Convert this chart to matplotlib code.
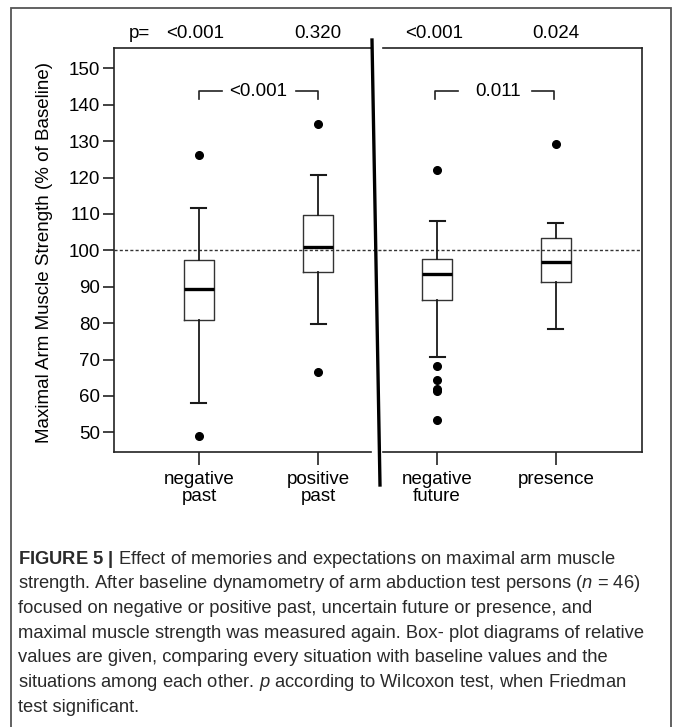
import matplotlib
matplotlib.use('Agg')
import matplotlib.pyplot as plt
from matplotlib.lines import Line2D
from matplotlib.patches import Rectangle

plt.rcParams['font.family'] = ['Liberation Sans', 'DejaVu Sans']
plt.rcParams['mathtext.fontset'] = 'custom'
plt.rcParams['mathtext.rm'] = 'Liberation Sans'
plt.rcParams['mathtext.it'] = 'Liberation Sans:italic'
plt.rcParams['mathtext.bf'] = 'Liberation Sans:bold'

# Datos (% de la linea base)
categorias_izq = ['negative\npast', 'positive\npast']
categorias_der = ['negative\nfuture', 'presence']
bigote_bajo = [58.1, 79.9, 70.8, 78.3]
q1 = [80.8, 94.1, 86.4, 91.4]
mediana = [89.4, 100.9, 93.4, 96.8]
q3 = [97.3, 109.8, 97.7, 103.3]
bigote_alto = [111.6, 120.8, 108.0, 107.4]
atipicos = [[126.2, 49.0], [134.8, 66.5], [122.1, 68.2, 64.3, 62.0, 61.4, 53.3], [129.1]]
p_vs_base = ['<0.001', '0.320', '<0.001', '0.024']
p_pares = ['<0.001', '0.011']
yticks = list(range(50, 151, 10))

W, H = 673, 727


def fx(px):
    return px / W


def fy(py):
    return 1 - py / H


fig = plt.figure(figsize=(W / 100, H / 100), dpi=100)

ax1 = fig.add_axes([fx(114), fy(452), (371 - 114) / W, (452 - 48) / H])
ax2 = fig.add_axes([fx(383), fy(452), (642 - 383) / W, (452 - 48) / H])

stats = []
for i in range(4):
    stats.append(dict(med=mediana[i], q1=q1[i], q3=q3[i],
                      whislo=bigote_bajo[i], whishi=bigote_alto[i],
                      fliers=atipicos[i]))

color_lineas = '#1a1a1a'
props = dict(
    widths=0.25, capwidths=0.126, showfliers=True, patch_artist=False,
    boxprops=dict(color='#333333', linewidth=1.0),
    medianprops=dict(color='black', linewidth=2.4),
    whiskerprops=dict(color=color_lineas, linewidth=1.3),
    capprops=dict(color=color_lineas, linewidth=1.5),
    flierprops=dict(marker='o', markerfacecolor='black', markeredgecolor='black',
                    markersize=5.5, linestyle='none'),
)
ax1.bxp(stats[:2], positions=[1, 2], **props)
ax2.bxp(stats[2:], positions=[1, 2], **props)

ax1.set_xlim(0.286, 2.445)
ax2.set_xlim(0.546, 2.723)
for ax in (ax1, ax2):
    ax.set_ylim(44.6, 155.6)
    ax.set_facecolor('none')
    for s in ax.spines.values():
        s.set_linewidth(1.2)
        s.set_color('#222222')
    ax.tick_params(axis='x', direction='out', length=9, width=1.2,
                   color='#222222', labelsize=13.5, pad=5)

ax1.set_xticks([1, 2])
ax1.set_xticklabels(categorias_izq, linespacing=1.0)
ax2.set_xticks([1, 2])
ax2.set_xticklabels(categorias_der, linespacing=1.0)

ax1.spines['right'].set_visible(False)
ax2.spines['left'].set_visible(False)
ax1.set_yticks(yticks)
ax1.tick_params(axis='y', direction='out', length=8, width=1.2,
                color='#222222', labelsize=13.5, pad=2)
ax2.set_yticks([])

# linea punteada en 100 %
ax1.axhline(100, xmin=0, xmax=1.05, color='#333333', linewidth=1.0,
            linestyle=(0, (2.2, 1.6)), clip_on=False, zorder=0)
ax2.axhline(100, color='#333333', linewidth=1.0,
            linestyle=(0, (2.2, 1.6)), zorder=0)

# valores p frente a la linea base
ax1.text(0.412, 159.7, 'p=', ha='left', va='center', fontsize=13.5, clip_on=False)
ax1.text(0.97, 159.7, p_vs_base[0], ha='center', va='center', fontsize=13.5, clip_on=False)
ax1.text(2.0, 159.7, p_vs_base[1], ha='center', va='center', fontsize=13.5, clip_on=False)
ax2.text(0.975, 159.7, p_vs_base[2], ha='center', va='center', fontsize=13.5, clip_on=False)
ax2.text(2.0, 159.7, p_vs_base[3], ha='center', va='center', fontsize=13.5, clip_on=False)

# corchetes de comparacion entre situaciones
yb = 143.7
ax1.plot([1, 1, 1.19], [yb - 2, yb, yb], color='#222222', linewidth=1.2)
ax1.plot([1.815, 2, 2], [yb, yb, yb - 2], color='#222222', linewidth=1.2)
ax1.text(1.5, yb, p_pares[0], ha='center', va='center', fontsize=13.5)
ax2.plot([0.985, 0.985, 1.175], [yb - 2, yb, yb], color='#222222', linewidth=1.2)
ax2.plot([1.8, 1.98, 1.98], [yb, yb, yb - 2], color='#222222', linewidth=1.2)
ax2.text(1.51, yb, p_pares[1], ha='center', va='center', fontsize=13.5)

# linea divisoria gruesa
fig.add_artist(Line2D([fx(372), fx(380)], [fy(40), fy(485)], color='black',
                      linewidth=2.4, transform=fig.transFigure))

fig.text(fx(45), fy(252), 'Maximal Arm Muscle Strength (% of Baseline)',
         rotation=90, ha='center', va='center', fontsize=13.5)

# marco exterior
fig.add_artist(Rectangle((fx(11), -0.05), fx(671) - fx(11), fy(8) + 0.05,
                         fill=False, edgecolor='#555555', linewidth=1.3,
                         transform=fig.transFigure))

# leyenda de la figura
lineas = [
    r'$\bf{FIGURE\ 5\ |}$ Effect of memories and expectations on maximal arm muscle',
    r'strength. After baseline dynamometry of arm abduction test persons ($\it{n}$ = 46)',
    'focused on negative or positive past, uncertain future or presence, and',
    'maximal muscle strength was measured again. Box- plot diagrams of relative',
    'values are given, comparing every situation with baseline values and the',
    r'situations among each other. $\it{p}$ according to Wilcoxon test, when Friedman',
    'test significant.',
]
for i, linea in enumerate(lineas):
    fig.text(fx(18), fy(563.5 + 24.7 * i), linea, ha='left', va='baseline',
             fontsize=13.2, color='#2a2a2a')

fig.savefig('out.png', dpi=100, facecolor='white')
